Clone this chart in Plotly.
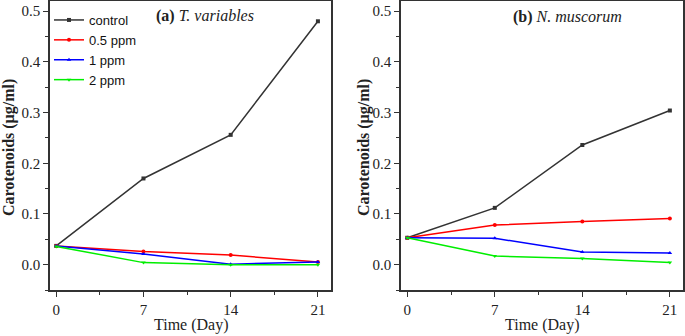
import plotly.graph_objects as go

days = [0, 7, 14, 21]
series_names = ["control", "0.5 ppm", "1 ppm", "2 ppm"]
colors = ["#333333", "#ff0000", "#0000ff", "#00ee00"]
symbols = ["square", "circle", "triangle-up", "triangle-down"]

a_control = [0.037, 0.170, 0.256, 0.480]
a_05ppm = [0.037, 0.026, 0.019, 0.005]
a_1ppm = [0.037, 0.021, 0.001, 0.005]
a_2ppm = [0.036, 0.004, 0.000, 0.000]

b_control = [0.053, 0.112, 0.236, 0.304]
b_05ppm = [0.053, 0.078, 0.085, 0.091]
b_1ppm = [0.053, 0.052, 0.025, 0.023]
b_2ppm = [0.053, 0.017, 0.012, 0.004]

panel_a = [a_control, a_05ppm, a_1ppm, a_2ppm]
panel_b = [b_control, b_05ppm, b_1ppm, b_2ppm]

fig = go.Figure()
for i, name in enumerate(series_names):
    fig.add_trace(go.Scatter(x=days, y=panel_a[i], name=name, mode="lines+markers",
                             line=dict(color=colors[i], width=1.5),
                             marker=dict(symbol=symbols[i], size=4, color=colors[i]),
                             xaxis="x", yaxis="y", showlegend=True))
for i, name in enumerate(series_names):
    fig.add_trace(go.Scatter(x=days, y=panel_b[i], name=name, mode="lines+markers",
                             line=dict(color=colors[i], width=1.5),
                             marker=dict(symbol=symbols[i], size=4, color=colors[i]),
                             xaxis="x2", yaxis="y2", showlegend=False))

serif = "Liberation Serif, Times New Roman, serif"
axcol = "#333333"

def xaxis(domain, anchor):
    return dict(domain=domain, anchor=anchor, range=[-0.5, 22.05],
                tickvals=days, ticktext=[str(d) for d in days],
                ticks="outside", ticklen=5, tickwidth=1.2, tickcolor=axcol,
                minor=dict(tickvals=[3.5, 10.5, 17.5], ticks="outside", ticklen=3, tickcolor=axcol),
                showline=True, linecolor=axcol, linewidth=1.5, mirror=True,
                showgrid=False, zeroline=False,
                tickfont=dict(family=serif, size=15, color="#222"))

def yaxis(domain, anchor):
    return dict(domain=domain, anchor=anchor, range=[-0.05, 0.52],
                tickvals=[0, 0.1, 0.2, 0.3, 0.4, 0.5],
                ticktext=["0.0", "0.1", "0.2", "0.3", "0.4", "0.5"],
                ticks="outside", ticklen=5, tickwidth=1.2, tickcolor=axcol,
                minor=dict(tickvals=[-0.05, 0.05, 0.15, 0.25, 0.35, 0.45], ticks="outside", ticklen=3, tickcolor=axcol),
                showline=True, linecolor=axcol, linewidth=1.5, mirror=True,
                showgrid=False, zeroline=False,
                tickfont=dict(family=serif, size=15, color="#222"))

ydom = [1 - 290 / 336, 1 - 1 / 336]
fig.update_layout(
    width=685, height=336,
    margin=dict(l=0, r=0, t=0, b=0),
    paper_bgcolor="white", plot_bgcolor="white",
    xaxis=xaxis([50 / 685, 331 / 685], "y"),
    yaxis=yaxis(ydom, "x"),
    xaxis2=xaxis([401 / 685, 683 / 685], "y2"),
    yaxis2=yaxis(ydom, "x2"),
    legend=dict(x=49 / 685, y=1 - 5 / 336, xanchor="left", yanchor="top",
                bgcolor="rgba(0,0,0,0)", font=dict(family="Liberation Sans, Arial", size=13, color="#111"),
                tracegroupgap=0, itemwidth=30),
    showlegend=True,
)

annotations = [
    dict(text="<b>(a)</b> <i>T. variables</i>", x=205 / 685, y=1 - 16 / 336),
    dict(text="<b>(b)</b> <i>N. muscorum</i>", x=567 / 685, y=1 - 17 / 336),
    dict(text="Time (Day)", x=191 / 685, y=1 - 325 / 336),
    dict(text="Time (Day)", x=542 / 685, y=1 - 325 / 336),
    dict(text="<b>Carotenoids (µg/ml)</b>", x=9 / 685, y=1 - 148 / 336, textangle=-90),
    dict(text="<b>Carotenoids (µg/ml)</b>", x=364 / 685, y=1 - 148 / 336, textangle=-90),
]
for a in annotations:
    fig.add_annotation(xref="paper", yref="paper", showarrow=False,
                       xanchor="center", yanchor="middle",
                       font=dict(family=serif, size=16, color="#222"), **a)

fig.write_html("out.html", config={"displayModeBar": False},
               post_script="document.body.style.margin='0';document.body.style.overflow='hidden';")
